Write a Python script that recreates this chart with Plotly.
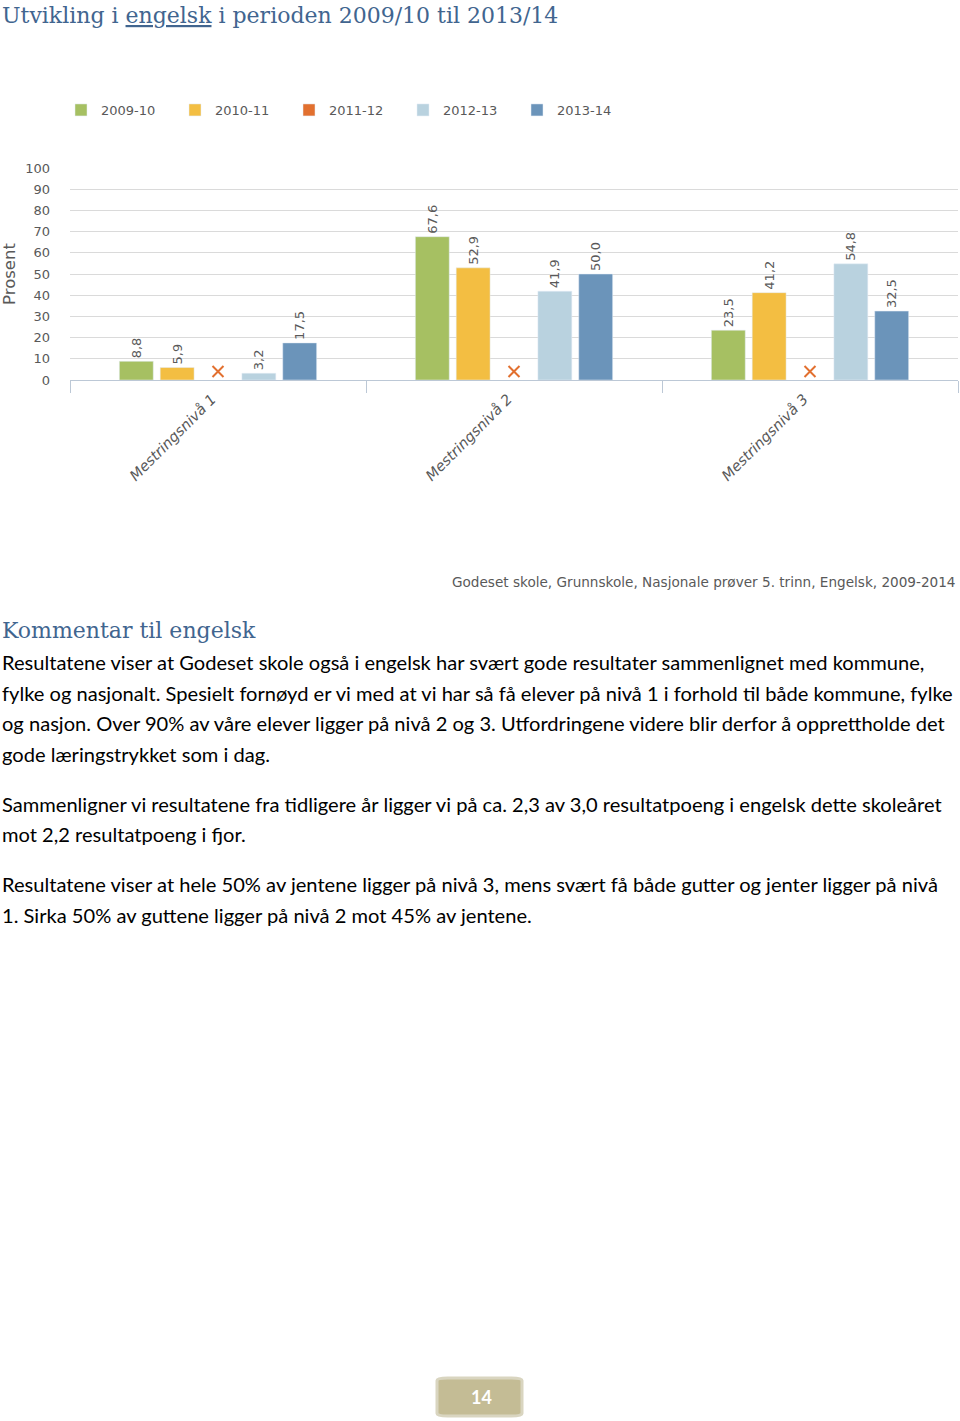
import plotly.graph_objects as go

# data (percent of pupils per mastery level)
categories = ["Mestringsnivå 1", "Mestringsnivå 2", "Mestringsnivå 3"]
seasons = ["2009-10", "2010-11", "2011-12", "2012-13", "2013-14"]
values_2009_10 = [8.8, 67.6, 23.5]
values_2010_11 = [5.9, 52.9, 41.2]
values_2011_12 = [None, None, None]   # no result this year, drawn as an x
values_2012_13 = [3.2, 41.9, 54.8]
values_2013_14 = [17.5, 50.0, 32.5]
missing_marker_y = [4, 4, 4]

series_values = [values_2009_10, values_2010_11, values_2011_12, values_2012_13, values_2013_14]
colors = ["#A6C062", "#F3BE42", "#E2702F", "#B9D2DF", "#6B94BA"]

title_text = "Utvikling i <u>engelsk</u> i perioden 2009/10 til 2013/14"
source_text = "Godeset skole, Grunnskole, Nasjonale prøver 5. trinn, Engelsk, 2009-2014"
comment_heading = "Kommentar til engelsk"
comment_paragraphs = [
    ["Resultatene viser at Godeset skole også i engelsk har svært gode resultater sammenlignet med kommune,",
     "fylke og nasjonalt. Spesielt fornøyd er vi med at vi har så få elever på nivå 1 i forhold til både kommune, fylke",
     "og nasjon. Over 90% av våre elever ligger på nivå 2 og 3. Utfordringene videre blir derfor å opprettholde det",
     "gode læringstrykket som i dag."],
    ["Sammenligner vi resultatene fra tidligere år ligger vi på ca. 2,3 av 3,0 resultatpoeng i engelsk dette skoleåret",
     "mot 2,2 resultatpoeng i fjor."],
    ["Resultatene viser at hele 50% av jentene ligger på nivå 3, mens svært få både gutter og jenter ligger på nivå",
     "1. Sirka 50% av guttene ligger på nivå 2 mot 45% av jentene."],
]
page_number = "14"

W, H = 960, 1421
PL, PR, PT, PB = 70, 2, 168, 1041
GREY = "#595959"
CHART_FONT = "DejaVu Sans"
SERIF = "DejaVu Serif"
BODY_FONT = "Lato"


def px_x(px):
    return (px - PL) / (W - PL - PR)


def px_y(py):
    return (H - PB - py) / (H - PT - PB)


def fmt(v):
    return "" if v is None else f"{v:.1f}".replace(".", ",")


fig = go.Figure()
for name, vals, col in zip(seasons, series_values, colors):
    fig.add_trace(go.Bar(
        name=name, x=categories, y=vals, marker_color=col,
        text=[fmt(v) for v in vals], textposition="outside", textangle=-90,
        textfont=dict(family=CHART_FONT, size=13, color=GREY),
        cliponaxis=False,
    ))

fig.add_trace(go.Scatter(
    x=categories, y=missing_marker_y, mode="markers", showlegend=False,
    marker=dict(symbol="x-thin", size=11, line=dict(width=2, color=colors[2])),
    hoverinfo="skip",
))

annotations = [
    dict(text=title_text, x=px_x(0), y=px_y(15), xanchor="left", yanchor="middle",
         font=dict(family=SERIF, size=22, color="#41658F")),
    dict(text=source_text, x=px_x(958), y=px_y(582), xanchor="right", yanchor="middle",
         font=dict(family=CHART_FONT, size=13.6, color=GREY)),
    dict(text=comment_heading, x=px_x(0), y=px_y(630), xanchor="left", yanchor="middle",
         font=dict(family=SERIF, size=22, color="#41658F")),
    dict(text="<b>" + page_number + "</b>", x=px_x(481), y=px_y(1397), xanchor="center", yanchor="middle",
         font=dict(family=BODY_FONT, size=18, color="white")),
]

line_y = 662
for para in comment_paragraphs:
    for line in para:
        annotations.append(dict(text=line, x=px_x(0), y=px_y(line_y), xanchor="left", yanchor="middle",
                                font=dict(family=BODY_FONT, size=20.1, color="black")))
        line_y += 30.5
    line_y += 19.5
for a in annotations:
    a.update(xref="paper", yref="paper", showarrow=False)


def rounded_box(x0, y0, x1, y1, r):
    return (f"M {x0 + r},{y0} L {x1 - r},{y0} Q {x1},{y0} {x1},{y0 - r} "
            f"L {x1},{y1 + r} Q {x1},{y1} {x1 - r},{y1} L {x0 + r},{y1} "
            f"Q {x0},{y1} {x0},{y1 + r} L {x0},{y0 - r} Q {x0},{y0} {x0 + r},{y0} Z")


shapes = [
    dict(type="path", xref="paper", yref="paper",
         path=rounded_box(px_x(437), px_y(1378), px_x(522), px_y(1416), 0.012),
         fillcolor="#C4BC95", line=dict(color="#D9D5C0", width=3)),
]

fig.update_layout(
    width=W, height=H,
    margin=dict(l=PL, r=PR, t=PT, b=PB, pad=0),
    paper_bgcolor="white", plot_bgcolor="white",
    barmode="group", bargap=0.31, bargroupgap=0.17,
    font=dict(family=CHART_FONT, color=GREY),
    legend=dict(orientation="h", x=px_x(61), y=px_y(110), xanchor="left", yanchor="middle",
                font=dict(family=CHART_FONT, size=13, color=GREY),
                entrywidth=69, entrywidthmode="pixels", traceorder="normal"),
    xaxis=dict(showgrid=False, showline=True, linecolor="#BCC8D6", linewidth=1,
               ticks="outside", tickson="boundaries", ticklen=12, tickcolor="#BCC8D6",
               ticklabelshift=-6, ticklabelstandoff=4,
               tickangle=-45, tickfont=dict(family=CHART_FONT, size=14.5, color=GREY, style="italic")),
    yaxis=dict(range=[0, 100], dtick=10, showgrid=True, gridcolor="#DADADA", zeroline=False,
               showline=False, ticks="", ticklabelstandoff=19,
               tickfont=dict(family=CHART_FONT, size=13, color=GREY),
               title=dict(text="Prosent", standoff=6, font=dict(family=CHART_FONT, size=16.5, color=GREY))),
    annotations=annotations,
    shapes=shapes,
    showlegend=True,
)

fig.write_html("out.html", config={"displayModeBar": False},
               post_script="document.body.style.margin='0';")
